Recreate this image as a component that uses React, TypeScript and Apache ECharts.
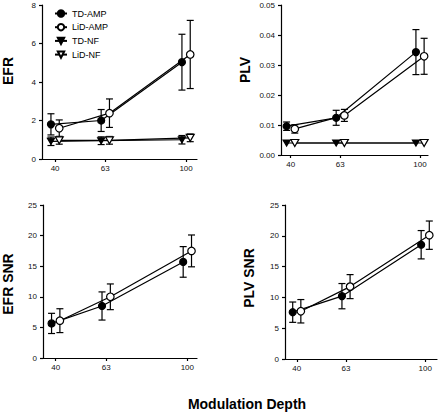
import React, { useEffect, useRef } from "react";
import * as echarts from "echarts";

// ---- data ----
const depths = [40, 63, 100];
const depthTicks = [40, 63, 100];

const efrTdAmp = [1.8, 2.0, 5.03];
const efrTdAmpErr = [0.55, 0.57, 1.45];
const efrLidAmp = [1.6, 2.38, 5.43];
const efrLidAmpErr = [0.43, 0.74, 1.77];
const efrTdNf = [0.92, 0.95, 1.0];
const efrTdNfErr = [0.22, 0.2, 0.22];
const efrLidNf = [0.97, 0.97, 1.1];
const efrLidNfErr = [0.2, 0.2, 0.2];

const plvTdAmp = [0.0096, 0.0124, 0.0343];
const plvTdAmpErr = [0.0014, 0.0025, 0.0075];
const plvLidAmp = [0.0087, 0.0132, 0.0329];
const plvLidAmpErr = [0.0014, 0.002, 0.006];
const plvTdNf = [0.004, 0.004, 0.004];
const plvTdNfErr = [0, 0, 0];
const plvLidNf = [0.004, 0.004, 0.004];
const plvLidNfErr = [0, 0, 0];

const efrSnrTdAmp = [5.65, 8.5, 15.7];
const efrSnrTdAmpErr = [1.65, 2.3, 2.5];
const efrSnrLidAmp = [6.1, 10.0, 17.5];
const efrSnrLidAmpErr = [1.95, 2.1, 2.6];

const plvSnrTdAmp = [7.6, 10.2, 18.55];
const plvSnrTdAmpErr = [1.65, 2.05, 2.3];
const plvSnrLidAmp = [7.75, 11.75, 20.1];
const plvSnrLidAmpErr = [1.9, 1.95, 2.3];

const legendNames = ["TD-AMP", "LiD-AMP", "TD-NF", "LiD-NF"];
const xTitle = "Modulation Depth";

// ---- styling ----
const FONT = "Liberation Sans, Arial, Helvetica, sans-serif";
const DOWN_TRI = "path://M0,0L10,0L5,9Z";
const seriesStyle: Record<string, { symbol: string; fill: string; offset: number; size: any }> = {
  "TD-AMP": { symbol: "circle", fill: "#000", offset: -1.9, size: 7 },
  "LiD-AMP": { symbol: "circle", fill: "#fff", offset: 1.9, size: 7.5 },
  "TD-NF": { symbol: DOWN_TRI, fill: "#000", offset: -1.9, size: [7, 6] },
  "LiD-NF": { symbol: DOWN_TRI, fill: "#fff", offset: 1.9, size: [8, 7] },
};

type PanelSeries = { name: string; values: number[]; errs: number[] };
type Panel = {
  grid: { left: number; top: number; width: number; height: number };
  xMin: number; xMax: number;
  yMin: number; yMax: number; yInterval: number; decimals: number;
  title: string; titleX: number; titleY: number;
  series: PanelSeries[];
};

const panels: Panel[] = [
  {
    grid: { left: 42, top: 5, width: 155, height: 154 },
    xMin: 34, xMax: 105, yMin: 0, yMax: 8, yInterval: 2, decimals: 0,
    title: "EFR", titleX: 8, titleY: 71,
    series: [
      { name: "TD-AMP", values: efrTdAmp, errs: efrTdAmpErr },
      { name: "LiD-AMP", values: efrLidAmp, errs: efrLidAmpErr },
      { name: "TD-NF", values: efrTdNf, errs: efrTdNfErr },
      { name: "LiD-NF", values: efrLidNf, errs: efrLidNfErr },
    ],
  },
  {
    grid: { left: 281, top: 5, width: 147, height: 150 },
    xMin: 35.5, xMax: 103.7, yMin: 0, yMax: 0.05, yInterval: 0.01, decimals: 2,
    title: "PLV", titleX: 245, titleY: 70,
    series: [
      { name: "TD-AMP", values: plvTdAmp, errs: plvTdAmpErr },
      { name: "LiD-AMP", values: plvLidAmp, errs: plvLidAmpErr },
      { name: "TD-NF", values: plvTdNf, errs: plvTdNfErr },
      { name: "LiD-NF", values: plvLidNf, errs: plvLidNfErr },
    ],
  },
  {
    grid: { left: 43, top: 205, width: 154, height: 153 },
    xMin: 34.2, xMax: 104.4, yMin: 0, yMax: 25, yInterval: 5, decimals: 0,
    title: "EFR SNR", titleX: 8, titleY: 284,
    series: [
      { name: "TD-AMP", values: efrSnrTdAmp, errs: efrSnrTdAmpErr },
      { name: "LiD-AMP", values: efrSnrLidAmp, errs: efrSnrLidAmpErr },
    ],
  },
  {
    grid: { left: 285, top: 205, width: 152, height: 154 },
    xMin: 34.5, xMax: 105.5, yMin: 0, yMax: 25, yInterval: 5, decimals: 0,
    title: "PLV SNR", titleX: 249, titleY: 278,
    series: [
      { name: "TD-AMP", values: plvSnrTdAmp, errs: plvSnrTdAmpErr },
      { name: "LiD-AMP", values: plvSnrLidAmp, errs: plvSnrLidAmpErr },
    ],
  },
];

function buildOption() {
  const grids: any[] = [];
  const xAxes: any[] = [];
  const yAxes: any[] = [];
  const series: any[] = [];
  const graphics: any[] = [];

  panels.forEach((p, gi) => {
    grids.push({ ...p.grid, containLabel: false, outerBoundsMode: "none" });
    xAxes.push({
      type: "value", gridIndex: gi, min: p.xMin, max: p.xMax,
      axisLine: { show: true, onZero: false, lineStyle: { color: "#000", width: 1.2 } },
      axisTick: { show: true, customValues: depthTicks, length: 3, lineStyle: { color: "#000", width: 1.2 } },
      axisLabel: { customValues: depthTicks, fontSize: 8, color: "#111", fontFamily: FONT, margin: 5 },
      splitLine: { show: false },
    });
    yAxes.push({
      type: "value", gridIndex: gi, min: p.yMin, max: p.yMax, interval: p.yInterval,
      axisLine: { show: true, onZero: false, lineStyle: { color: "#000", width: 1.2 } },
      axisTick: { show: true, length: 3, lineStyle: { color: "#000", width: 1.2 } },
      axisLabel: {
        fontSize: 8, color: "#111", fontFamily: FONT, margin: 6,
        formatter: (v: number) => v.toFixed(p.decimals),
      },
      splitLine: { show: false },
    });
    graphics.push({
      type: "text", x: p.titleX, y: p.titleY, rotation: Math.PI / 2,
      style: { text: p.title, font: `bold 14px ${FONT}`, fill: "#000", align: "center", verticalAlign: "middle" },
    });

    p.series.forEach((s) => {
      const st = seriesStyle[s.name];
      series.push({
        type: "custom", name: s.name + "-err-" + gi, xAxisIndex: gi, yAxisIndex: gi, z: 1, clip: false,
        data: depths.map((d, i) => [d + st.offset, s.values[i] - s.errs[i], s.values[i] + s.errs[i]]),
        encode: { x: 0, y: [1, 2] },
        renderItem: (params: any, api: any) => {
          const x = api.value(0), lo = api.value(1), hi = api.value(2);
          if (hi - lo <= 0) return null;
          const a = api.coord([x, lo]);
          const b = api.coord([x, hi]);
          const w = 3.5;
          const ls = { stroke: "#000", lineWidth: 1.2 };
          return {
            type: "group",
            children: [
              { type: "line", shape: { x1: a[0], y1: a[1], x2: b[0], y2: b[1] }, style: ls },
              { type: "line", shape: { x1: a[0] - w, y1: a[1], x2: a[0] + w, y2: a[1] }, style: ls },
              { type: "line", shape: { x1: b[0] - w, y1: b[1], x2: b[0] + w, y2: b[1] }, style: ls },
            ],
          };
        },
      });
      series.push({
        type: "line", name: s.name, xAxisIndex: gi, yAxisIndex: gi, z: 3,
        data: depths.map((d, i) => [d + st.offset, s.values[i]]),
        symbol: st.symbol, symbolSize: st.size, showSymbol: true,
        lineStyle: { color: "#000", width: 1.2 },
        itemStyle: { color: st.fill, borderColor: "#000", borderWidth: 1.2 },
        emphasis: { disabled: true },
      });
    });
  });

  graphics.push({
    type: "text", x: 247, y: 404,
    style: { text: xTitle, font: `bold 14px ${FONT}`, fill: "#000", align: "center", verticalAlign: "middle" },
  });

  return {
    animation: false,
    backgroundColor: "#fff",
    grid: grids,
    xAxis: xAxes,
    yAxis: yAxes,
    legend: {
      data: legendNames,
      orient: "vertical",
      left: 49, top: 4,
      itemWidth: 12, itemHeight: 8, itemGap: 4.7,
      textStyle: { fontSize: 9, color: "#000", fontFamily: FONT },
      selectedMode: false,
    },
    graphic: graphics,
    series,
  };
}

export default function App() {
  const ref = useRef<HTMLDivElement>(null);
  useEffect(() => {
    document.body.style.margin = "0";
    if (!ref.current) return;
    const chart = echarts.init(ref.current, null, { renderer: "svg" });
    chart.setOption(buildOption() as any);
    return () => chart.dispose();
  }, []);
  return <div ref={ref} style={{ width: 440, height: 414 }} />;
}
